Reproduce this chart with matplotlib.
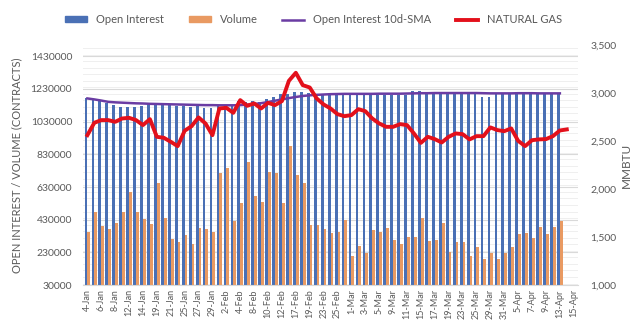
import numpy as np
import matplotlib.pyplot as plt
from matplotlib.patches import Patch
from matplotlib.lines import Line2D
from matplotlib.ticker import MultipleLocator

plt.rcParams['font.family'] = ['Lato', 'DejaVu Sans']

# trading days, 4-Jan .. 15-Apr
dates = ['4-Jan', '5-Jan', '6-Jan', '7-Jan', '8-Jan', '11-Jan', '12-Jan', '13-Jan', '14-Jan', '15-Jan',
         '19-Jan', '20-Jan', '21-Jan', '22-Jan', '25-Jan', '26-Jan', '27-Jan', '28-Jan', '29-Jan',
         '1-Feb', '2-Feb', '3-Feb', '4-Feb', '5-Feb', '8-Feb', '9-Feb', '10-Feb', '11-Feb', '12-Feb',
         '16-Feb', '17-Feb', '18-Feb', '19-Feb', '22-Feb', '23-Feb', '24-Feb', '25-Feb', '26-Feb',
         '1-Mar', '2-Mar', '3-Mar', '4-Mar', '5-Mar', '8-Mar', '9-Mar', '10-Mar', '11-Mar', '12-Mar',
         '15-Mar', '16-Mar', '17-Mar', '18-Mar', '19-Mar', '22-Mar', '23-Mar', '24-Mar', '25-Mar', '26-Mar',
         '29-Mar', '30-Mar', '31-Mar', '1-Apr', '5-Apr', '6-Apr', '7-Apr', '8-Apr', '9-Apr',
         '12-Apr', '13-Apr', '14-Apr', '15-Apr']

open_interest = [1172000, 1161000, 1155000, 1145000, 1131000, 1120000, 1120000, 1120000, 1125000, 1135000,
                 1131000, 1131000, 1131000, 1127000, 1127000, 1120000, 1125000, 1111000, 1111000,
                 1125000, 1127000, 1131000, 1155000, 1150000, 1155000, 1150000, 1166000, 1182000, 1198000,
                 1198000, 1209000, 1209000, 1203000, 1196000, 1192000,
                 1192000, 1192000, 1190000, 1192000, 1192000, 1190000, 1192000, 1190000, 1192000, 1192000,
                 1190000, 1195000, 1216000, 1216000, 1198000, 1198000, 1198000, 1198000, 1198000, 1198000,
                 1198000, 1198000, 1182000, 1180000, 1198000, 1198000, 1198000, 1212000, 1212000, 1198000,
                 1198000, 1198000, 1198000, 1198000]

volume = [356000, 475000, 391000, 371000, 413000, 478000, 597000, 475000, 434000, 405000,
          652000, 442000, 311000, 291000, 336000, 283000, 377000, 372000, 352000,
          713000, 744000, 423000, 530000, 784000, 574000, 540000, 719000, 713000, 530000,
          882000, 703000, 652000, 397000, 397000, 371000,
          350000, 356000, 428000, 209000, 269000, 224000, 366000, 352000, 377000, 305000,
          279000, 326000, 322000, 438000, 301000, 305000, 411000, 230000, 291000, 295000,
          209000, 261000, 189000, 227000, 189000, 224000, 261000, 340000, 346000, 316000,
          383000, 340000, 383000, 423000]

oi_sma = [1172000, 1166000, 1159000, 1151000, 1148000, 1146000, 1144000, 1142000, 1141000, 1139000,
          1138000, 1137000, 1136000, 1135000, 1134000, 1133000, 1132000, 1131000, 1131000,
          1130000, 1130000, 1130000, 1131000, 1134000, 1138000, 1143000, 1150000, 1158000, 1166000,
          1174000, 1181000, 1187000, 1191000, 1194000, 1196000,
          1198000, 1199000, 1200000, 1200000, 1200000, 1200000, 1200000, 1201000, 1201000, 1201000,
          1201000, 1202000, 1203000, 1204000, 1204000, 1205000, 1205000, 1205000, 1205000, 1205000,
          1205000, 1205000, 1204000, 1203000, 1203000, 1203000, 1203000, 1204000, 1204000, 1204000,
          1203000, 1203000, 1203000, 1203000]

natural_gas = [2562, 2691, 2719, 2719, 2701, 2736, 2743, 2719, 2667, 2729,
               2545, 2535, 2493, 2448, 2608, 2656, 2747, 2684, 2562,
               2840, 2847, 2795, 2927, 2868, 2893, 2840, 2899, 2875, 2917,
               3128, 3212, 3083, 3059, 2945, 2882,
               2840, 2781, 2760, 2771, 2833, 2812, 2736, 2684, 2649, 2649,
               2677, 2667, 2580, 2482, 2545, 2521, 2486, 2545, 2580, 2573,
               2518, 2552, 2552, 2643, 2615, 2604, 2632, 2503, 2448, 2510,
               2518, 2521, 2552, 2611, 2622]

left_ticks = list(range(30000, 1430001, 200000))
right_ticks = list(range(1000, 3501, 500))

x = np.arange(len(dates))
nb = len(open_interest)
nl = len(natural_gas)

fig = plt.figure(figsize=(6.4, 3.27), dpi=100)
ax = fig.add_axes([0.13, 0.128, 0.773, 0.734])
ax2 = ax.twinx()

grey = '#595959'
blue, orange, purple, red = '#4a70b5', '#e99a62', '#6a3ca3', '#e3101b'
ax.bar(x[:nb] - 0.2, open_interest, width=0.4, color=blue, zorder=2)
ax.bar(x[:nb] + 0.2, volume, width=0.4, color=orange, zorder=2)
ax.plot(x[:nb], oi_sma, color=purple, lw=1.8, zorder=3)
ax2.plot(x[:nl], natural_gas, color=red, lw=2.8, zorder=4)

ax.set_xlim(-0.6, len(dates) - 0.4)
ax.set_ylim(30000, 1498000)
ax.set_yticks(left_ticks)
ax.set_yticklabels([str(v) for v in left_ticks])
ax.yaxis.set_minor_locator(MultipleLocator(40000))
ax.grid(axis='y', which='major', color='#d9d9d9', lw=0.8, zorder=0)
ax.grid(axis='y', which='minor', color='#efefef', lw=0.7, zorder=0)
ax.set_axisbelow(True)
ax2.set_ylim(1000, 3500)
ax2.set_yticks(right_ticks)
ax2.set_yticklabels([f'{v:,}' for v in right_ticks])

ax.set_xticks(x[::2])
ax.set_xticklabels(dates[::2], rotation=90, fontsize=6.5, color=grey)
ax.tick_params(axis='y', which='both', labelsize=7.5, colors=grey, length=0, pad=8)
ax.tick_params(axis='x', length=0, pad=3)
ax2.tick_params(axis='y', labelsize=7.5, colors=grey, length=0, pad=9)

for a in (ax, ax2):
    for s in a.spines.values():
        s.set_visible(False)
ax.spines['bottom'].set_visible(True)
ax.spines['bottom'].set_color('#d9d9d9')

ax.set_ylabel('OPEN INTEREST / VOLUME (CONTRACTS)', fontsize=8, color=grey, labelpad=6)
ax2.set_ylabel('MMBTU', fontsize=8.5, color=grey, labelpad=3)

handles = [Patch(color=blue), Patch(color=orange),
           Line2D([], [], color=purple, lw=1.8), Line2D([], [], color=red, lw=2.8)]
labels = ['Open Interest', 'Volume', 'Open Interest 10d-SMA', 'NATURAL GAS']
fig.legend(handles, labels, loc='center', bbox_to_anchor=(0.49, 0.94), ncol=4, frameon=False,
           fontsize=8, labelcolor=grey, handlelength=2.0, handleheight=0.5, columnspacing=2.2)

fig.savefig('out.png', dpi=100)
